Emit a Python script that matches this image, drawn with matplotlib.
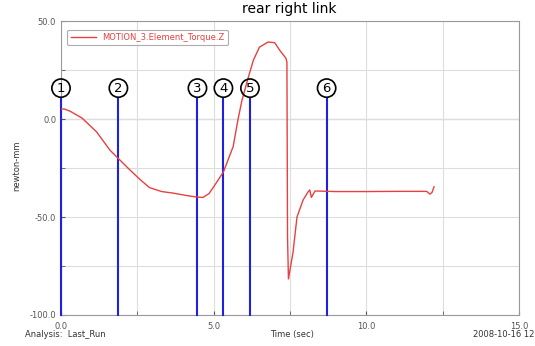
import matplotlib
matplotlib.use("Agg")
import matplotlib.pyplot as plt
from matplotlib.ticker import MultipleLocator

title = "rear right link"
series_label = "MOTION_3.Element_Torque.Z"
t = [0.0, 0.1, 0.3, 0.69, 1.17, 1.6, 1.87, 2.26, 2.6, 2.9, 3.3, 3.68, 4.1, 4.45, 4.65,
     4.85, 5.0, 5.32, 5.64, 5.8, 5.93, 6.13, 6.3, 6.5, 6.78, 7.0, 7.17, 7.37, 7.4, 7.42, 7.45,
     7.6, 7.73, 7.93, 8.1, 8.15, 8.2, 8.32, 9.0, 10.0, 11.0, 11.98, 12.08, 12.15, 12.22]
torque = [5.0, 5.2, 4.0, 0.5, -6.6, -15.8, -20.0, -26.0, -31.0, -35.0, -37.0, -37.8, -39.0,
          -39.8, -40.0, -38.0, -34.6, -27.0, -14.0, 0.0, 9.7, 21.0, 30.0, 36.7, 39.3, 39.0,
          35.0, 31.0, 29.0, -60.0, -81.6, -68.0, -50.0, -41.3, -37.0, -36.2, -40.0, -36.7,
          -37.0, -37.0, -36.9, -36.9, -38.3, -37.5, -34.6]
marker_times = [0.0, 1.88, 4.47, 5.32, 6.19, 8.70]
marker_labels = ["1", "2", "3", "4", "5", "6"]
marker_top = 10.7
circle_y = 15.8

fig = plt.figure(figsize=(5.35, 3.46), dpi=100)
ax = fig.add_axes([0.114, 0.0896, 0.856, 0.8494])
ax.set_xlim(0, 15)
ax.set_ylim(-100, 50)

for tm, lab in zip(marker_times, marker_labels):
    ax.plot([tm, tm], [-100, marker_top], color="#2020e0", lw=1.5, zorder=3, clip_on=False)
    ax.text(tm, circle_y, lab, ha="center", va="center", fontsize=9.5, zorder=5,
            bbox=dict(boxstyle="circle,pad=0.2", fc="none", ec="black", lw=1.2))

ax.plot(t, torque, color="#e84040", lw=1.0, zorder=4, label=series_label)

ax.xaxis.set_major_locator(MultipleLocator(5))
ax.xaxis.set_minor_locator(MultipleLocator(2.5))
ax.yaxis.set_major_locator(MultipleLocator(50))
ax.yaxis.set_minor_locator(MultipleLocator(25))
ax.xaxis.set_major_formatter(plt.FuncFormatter(lambda v, p: f"{v:.1f}"))
ax.yaxis.set_major_formatter(plt.FuncFormatter(lambda v, p: f"{v:.1f}"))
ax.grid(True, which="both", color="#dddddd", lw=0.8, zorder=0)
ax.tick_params(which="both", labelsize=6, colors="#555555", length=3, direction="in")
ax.tick_params(axis="x", which="both", pad=5)
for s in ax.spines.values():
    s.set_color("#999999")
    s.set_linewidth(0.8)

ax.axhline(0, color="#888888", lw=0.8, zorder=1)

leg = ax.legend(loc="upper left", fontsize=6, frameon=True, handlelength=3,
                borderpad=0.4, bbox_to_anchor=(0.005, 0.985), fancybox=True)
leg.get_frame().set_edgecolor("#999999")
leg.get_frame().set_linewidth(0.8)
for txt in leg.get_texts():
    txt.set_color("#e84040")

fig.text(0.54, 0.955, title, ha="center", va="bottom", fontsize=10)
fig.text(0.032, 0.52, "newton-mm", rotation=90, ha="center", va="center", fontsize=6, color="#333333")
fig.text(0.047, 0.02, "Analysis:  Last_Run", ha="left", va="bottom", fontsize=6, color="#333333")
fig.text(0.545, 0.02, "Time (sec)", ha="center", va="bottom", fontsize=6, color="#333333")
fig.text(0.998, 0.02, "2008-10-16 12", ha="right", va="bottom", fontsize=6, color="#333333")

fig.savefig("out.png", dpi=100)
